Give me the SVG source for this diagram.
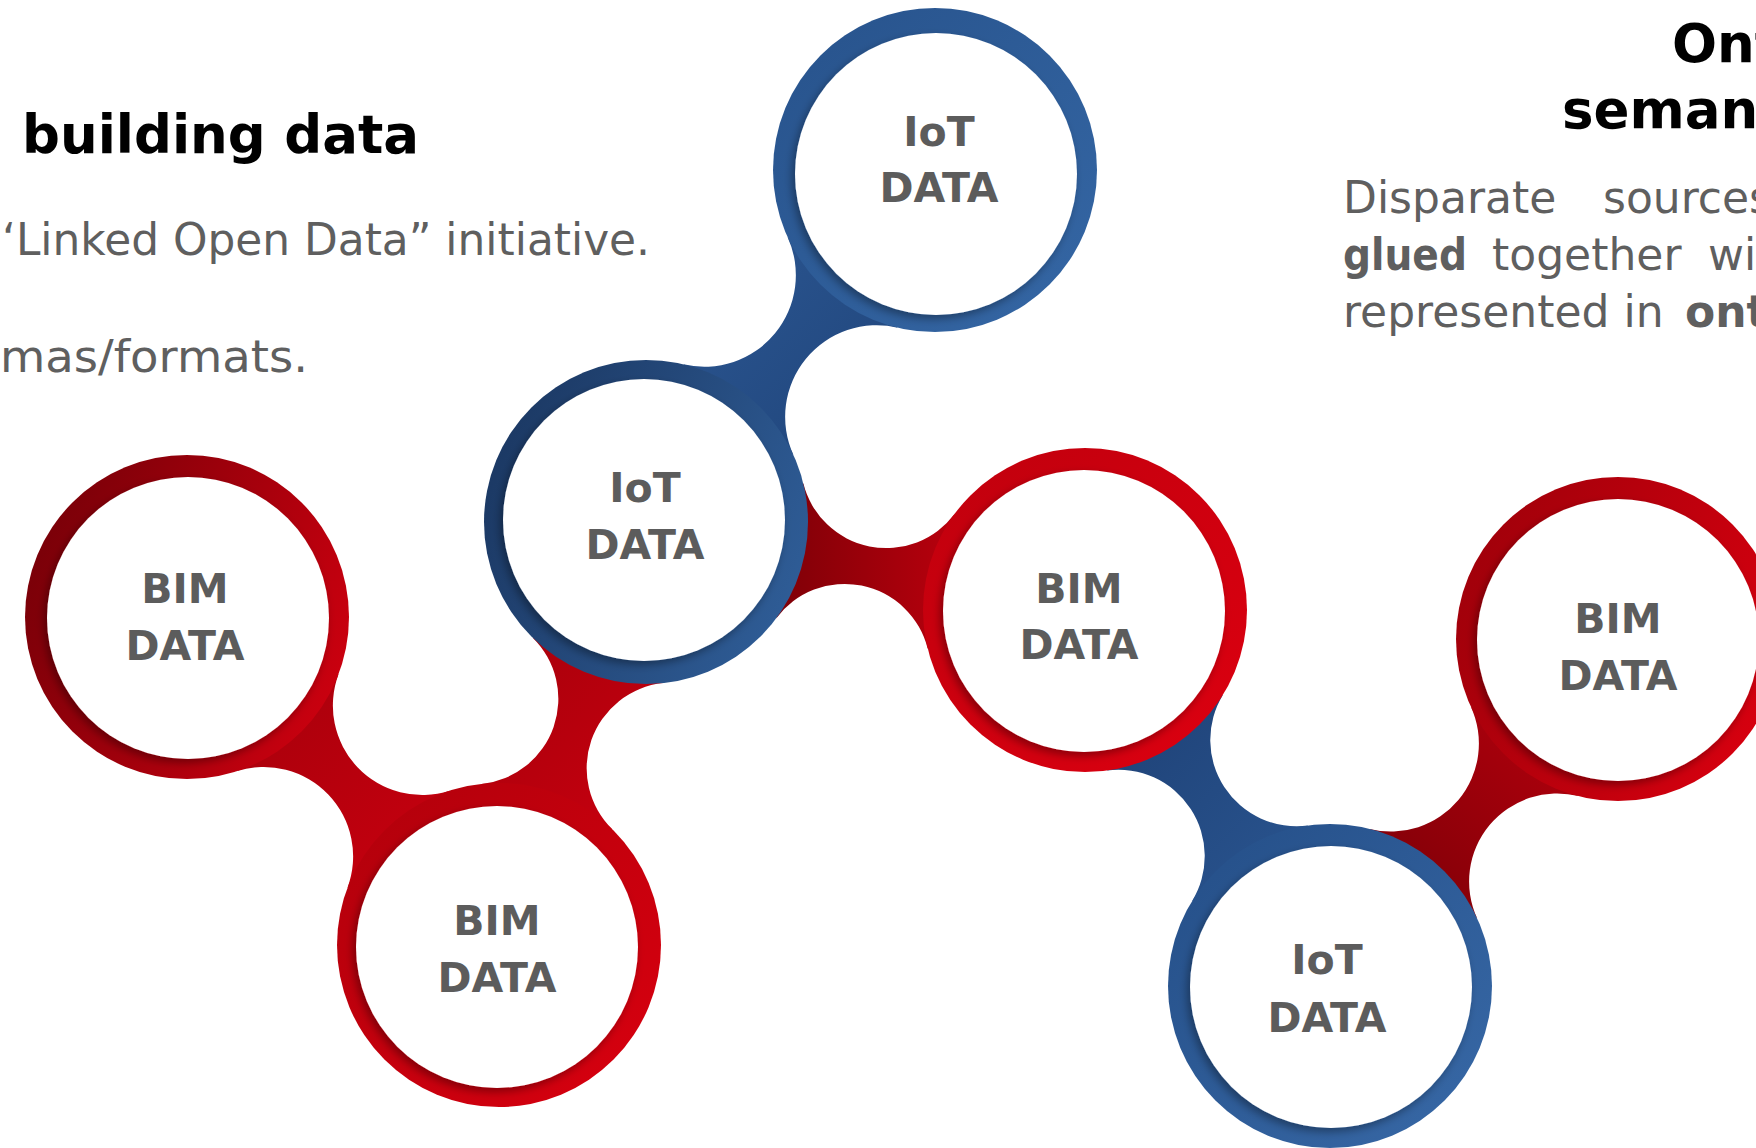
<svg xmlns="http://www.w3.org/2000/svg" width="1756" height="1148" viewBox="0 0 1756 1148">
<style>
.title{font-family:"DejaVu Sans","Liberation Sans",sans-serif;font-weight:bold;font-size:53px;fill:#000}
.para{font-family:"DejaVu Sans","Liberation Sans",sans-serif;font-size:44px;fill:#5f5f5f}
.b{font-weight:bold}
.lbl{font-family:"DejaVu Sans","Liberation Sans",sans-serif;font-weight:bold;font-size:41px;fill:#5c5c5c;text-anchor:middle}
.disk{fill:#fff;filter:url(#sh)}
</style>
<defs>
<filter id="sh" x="-20%" y="-20%" width="140%" height="140%">
<feDropShadow dx="-3" dy="4" stdDeviation="4" flood-color="#000" flood-opacity="0.35"/>
</filter>
<linearGradient id="gBlueA" x1="0" y1="0" x2="1" y2="1"><stop offset="0" stop-color="#27528b"/><stop offset="1" stop-color="#3567a5"/></linearGradient>
<linearGradient id="gBlueB" x1="0" y1="0.3" x2="1" y2="0.7"><stop offset="0" stop-color="#1b3863"/><stop offset="1" stop-color="#2f5d97"/></linearGradient>
<linearGradient id="gBlueC" x1="0" y1="0" x2="1" y2="1"><stop offset="0" stop-color="#244e87"/><stop offset="1" stop-color="#3869a7"/></linearGradient>
<linearGradient id="gRedA" x1="0" y1="0.3" x2="1" y2="0.7"><stop offset="0" stop-color="#780008"/><stop offset="1" stop-color="#cc000f"/></linearGradient>
<linearGradient id="gRedB" x1="0" y1="0" x2="1" y2="1"><stop offset="0" stop-color="#b0000b"/><stop offset="1" stop-color="#d9000f"/></linearGradient>
<linearGradient id="gRedC" x1="0" y1="0" x2="1" y2="1"><stop offset="0" stop-color="#c0000d"/><stop offset="1" stop-color="#dc0010"/></linearGradient>
<linearGradient id="gRedD" x1="0" y1="0.3" x2="1" y2="0.7"><stop offset="0" stop-color="#a0000a"/><stop offset="1" stop-color="#d8000f"/></linearGradient>
<linearGradient id="nBlue" x1="0" y1="0" x2="1" y2="1"><stop offset="0" stop-color="#2c5792"/><stop offset="1" stop-color="#1f447a"/></linearGradient>
<linearGradient id="nBlue2" x1="0" y1="0" x2="1" y2="1"><stop offset="0" stop-color="#1e4176"/><stop offset="1" stop-color="#2a5590"/></linearGradient>
<linearGradient id="nRedDark" x1="0" y1="0" x2="1" y2="0"><stop offset="0" stop-color="#7e0007"/><stop offset="1" stop-color="#b8000d"/></linearGradient>
<linearGradient id="nRed" x1="0" y1="0" x2="1" y2="1"><stop offset="0" stop-color="#a6000b"/><stop offset="1" stop-color="#c9000f"/></linearGradient>
<linearGradient id="nRedF" x1="0" y1="1" x2="1" y2="0"><stop offset="0" stop-color="#7a0007"/><stop offset="1" stop-color="#b5000d"/></linearGradient>
</defs>
<rect width="1756" height="1148" fill="#fff"/>

<g id="texts">
<text class="title" x="22" y="153">building data</text>
<text class="para" x="2" y="255" textLength="648" lengthAdjust="spacingAndGlyphs">‘Linked Open Data” initiative.</text>
<text class="para" x="0" y="372" textLength="308" lengthAdjust="spacingAndGlyphs">mas/formats.</text>
<text class="title" x="1672" y="62">Ont</text>
<text class="title" x="1562" y="128">semant</text>
<text class="para" y="213"><tspan x="1343">Disparate</tspan><tspan x="1603">sources</tspan></text>
<text class="para b" x="1343" y="270" textLength="124" lengthAdjust="spacingAndGlyphs">glued</text>
<text class="para" y="270"><tspan x="1492">together</tspan><tspan x="1708">wit</tspan></text>
<text class="para" y="327"><tspan x="1343">represented in</tspan><tspan x="1685" class="b">ont</tspan></text>
</g>

<g id="connectors">
<path id="c-top-mid" fill="url(#nBlue)" d="M787.60,237.19 A91.59,91.59 0 0 1 683.21,364.33 L793.40,454.81 A91.59,91.59 0 0 1 897.79,327.67 Z"/>
<path id="c-mid-bimc" fill="url(#nRedDark)" d="M776.11,618.49 A85.47,85.47 0 0 1 927.75,648.89 L954.89,513.51 A85.47,85.47 0 0 1 803.25,483.11 Z"/>
<path id="c-mid-bimb" fill="url(#nRed)" d="M532.66,637.75 A85.53,85.53 0 0 1 481.87,783.91 L612.34,829.25 A85.53,85.53 0 0 1 663.13,683.09 Z"/>
<path id="c-biml-bimb" fill="url(#nRed)" d="M236.45,771.27 A89.39,89.39 0 0 1 347.39,887.90 L449.55,790.73 A89.39,89.39 0 0 1 338.61,674.10 Z"/>
<path id="c-bimc-iotb" fill="url(#nBlue2)" d="M1106.82,770.52 A86.29,86.29 0 0 1 1191.97,901.20 L1308.18,825.48 A86.29,86.29 0 0 1 1223.03,694.80 Z"/>
<path id="c-iotb-bimr" fill="url(#nRedF)" d="M1477.16,918.27 A88.01,88.01 0 0 1 1578.55,796.12 L1470.84,706.73 A88.01,88.01 0 0 1 1369.45,828.88 Z"/>
</g>

<g id="node-iot-top">
<circle cx="935" cy="170" r="162" fill="url(#gBlueA)"/>
<circle class="disk" cx="936" cy="174" r="141"/>
<text class="lbl" x="939" y="146">IoT</text>
<text class="lbl" x="939" y="202">DATA</text>
</g>
<g id="node-iot-mid">
<circle cx="646" cy="522" r="162" fill="url(#gBlueB)"/>
<circle class="disk" cx="644" cy="520" r="141"/>
<text class="lbl" x="645" y="502">IoT</text>
<text class="lbl" x="645" y="559">DATA</text>
</g>
<g id="node-bim-left">
<circle cx="187" cy="617" r="162" fill="url(#gRedA)"/>
<circle class="disk" cx="188" cy="618" r="141"/>
<text class="lbl" x="185" y="603">BIM</text>
<text class="lbl" x="185" y="660">DATA</text>
</g>
<g id="node-bim-bottom">
<circle cx="499" cy="945" r="162" fill="url(#gRedB)"/>
<circle class="disk" cx="497" cy="947" r="141"/>
<text class="lbl" x="497" y="935">BIM</text>
<text class="lbl" x="497" y="992">DATA</text>
</g>
<g id="node-bim-center">
<circle cx="1085" cy="610" r="162" fill="url(#gRedC)"/>
<circle class="disk" cx="1084" cy="611" r="141"/>
<text class="lbl" x="1079" y="603">BIM</text>
<text class="lbl" x="1079" y="659">DATA</text>
</g>
<g id="node-iot-bottom">
<circle cx="1330" cy="986" r="162" fill="url(#gBlueC)"/>
<circle class="disk" cx="1331" cy="987" r="141"/>
<text class="lbl" x="1327" y="974">IoT</text>
<text class="lbl" x="1327" y="1032">DATA</text>
</g>
<g id="node-bim-right">
<circle cx="1618" cy="639" r="162" fill="url(#gRedD)"/>
<circle class="disk" cx="1618" cy="640" r="141"/>
<text class="lbl" x="1618" y="633">BIM</text>
<text class="lbl" x="1618" y="690">DATA</text>
</g>
</svg>
